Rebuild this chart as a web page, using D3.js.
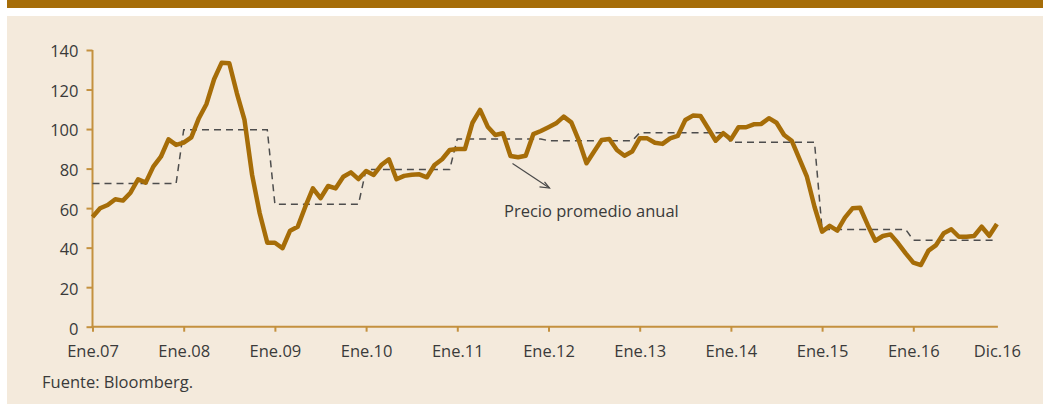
<!DOCTYPE html>
<html><head><meta charset="utf-8">
<script src="https://cdn.jsdelivr.net/npm/d3@7"></script>
<style>
html,body{margin:0;padding:0;background:#fff;}
svg{display:block;}
text{font-family:"Open Sans",sans-serif;fill:#3a3a3a;}
</style></head>
<body>
<svg id="c" width="1043" height="404"></svg>
<script>
// Monthly price, Jan 2007 .. Dec 2016 (US$/barrel)
const prices = [
  55.5, 59.9, 61.6, 64.5, 63.8, 67.8, 74.6, 72.9, 81.0, 86.0, 94.8, 92.0,
  93.1, 95.8, 105.5, 112.7, 125.2, 133.6, 133.3, 118.1, 104.6, 76.8, 57.4, 42.5,
  42.5, 39.7, 48.6, 50.6, 60.7, 70.0, 65.0, 71.2, 70.0, 75.9, 78.1, 74.7,
  78.8, 76.8, 81.8, 84.7, 74.6, 76.3, 76.9, 77.1, 75.6, 81.8, 84.7, 89.4,
  89.9, 89.9, 103.2, 109.7, 101.2, 97.0, 97.9, 86.4, 85.7, 86.5, 97.4, 99.0,
  100.9, 102.9, 106.3, 103.4, 94.1, 82.7, 88.6, 94.5, 95.0, 89.4, 86.5, 88.6,
  95.3, 95.3, 93.1, 92.5, 95.3, 96.5, 104.6, 106.8, 106.6, 100.4, 94.1, 97.9,
  94.8, 100.9, 100.9, 102.4, 102.6, 105.5, 103.2, 97.0, 94.1, 85.0, 75.9, 60.7,
  48.1, 51.0, 48.6, 55.2, 59.9, 60.2, 51.5, 43.5, 45.9, 46.7, 42.2, 37.1,
  32.4, 31.2, 38.5, 41.3, 47.3, 49.3, 45.5, 45.5, 45.9, 50.6, 46.0, 52.0
];
// Annual average price, 2007 .. 2016
const annualAvg = [72.5, 99.6, 62.0, 79.6, 95.0, 94.1, 98.1, 93.3, 49.2, 43.8];
const yTicks = [0, 20, 40, 60, 80, 100, 120, 140];
const xTickIdx = [0, 12, 24, 36, 48, 60, 72, 84, 96, 108, 119];
const xTickLabels = ["Ene.07","Ene.08","Ene.09","Ene.10","Ene.11","Ene.12","Ene.13","Ene.14","Ene.15","Ene.16","Dic.16"];
const annotationText = "Precio promedio anual";
const sourceText = "Fuente: Bloomberg.";

const BROWN = "#a66d08", AXIS = "#c4913f", BG = "#f4eadc";
const svg = d3.select("#c");

// frame
svg.append("rect").attr("x",7).attr("y",0).attr("width",1036).attr("height",8).attr("fill",BROWN);
svg.append("rect").attr("x",7).attr("y",16).attr("width",1036).attr("height",388).attr("fill",BG);

const x = d3.scaleLinear().domain([0,119]).range([92.5, 996.9]);
const y = d3.scaleLinear().domain([0,140]).range([326.7, 50]);

// annual average series (monthly steps)
const avgMonthly = prices.map((_, i) => annualAvg[Math.floor(i/12)]);

// axes
const yAxis = svg.append("g").attr("transform","translate(92.5,0)")
  .call(d3.axisLeft(y).tickValues(yTicks).tickSize(6).tickPadding(8).tickFormat(d3.format("d")));
yAxis.select(".domain").attr("stroke",AXIS).attr("stroke-width",2).attr("d","M0,"+y(140)+"V"+(y(0)+1));
yAxis.selectAll(".tick line").attr("stroke",AXIS).attr("stroke-width",2);
yAxis.selectAll(".tick text").attr("font-size",16.5).attr("font-family","Open Sans").attr("fill","#3a3a3a").attr("dy","0.42em");
yAxis.selectAll(".tick").filter(d => d === 0).select("text").attr("dy","0.5em");

const xAxis = svg.append("g").attr("transform","translate(0,"+y(0)+")")
  .call(d3.axisBottom(x).tickValues(xTickIdx).tickSize(5).tickPadding(14)
    .tickFormat((d,i) => xTickLabels[i]));
xAxis.select(".domain").attr("stroke",AXIS).attr("stroke-width",2).attr("d","M"+(x(0)-1)+",0H"+(x(119)+1));
xAxis.selectAll(".tick line").attr("stroke",AXIS).attr("stroke-width",2)
  .filter(d => d === 119).remove();
xAxis.selectAll(".tick text").attr("font-size",16.5).attr("font-family","Open Sans").attr("fill","#3a3a3a");

// dashed annual average
svg.append("path").datum(avgMonthly)
  .attr("d", d3.line().x((d,i)=>x(i)).y(d=>y(d)))
  .attr("fill","none").attr("stroke","#4d4d4d").attr("stroke-width",1.5)
  .attr("stroke-dasharray","7,5");

// main price line
svg.append("path").datum(prices)
  .attr("d", d3.line().x((d,i)=>x(i)).y(d=>y(d)))
  .attr("fill","none").attr("stroke",BROWN).attr("stroke-width",4.5)
  .attr("stroke-linejoin","round").attr("stroke-linecap","butt");

// annotation arrow
const ax0 = 512.5, ay0 = 163.5, ax1 = 549.5, ay1 = 188;
svg.append("line").attr("x1",ax0).attr("y1",ay0).attr("x2",ax1).attr("y2",ay1)
  .attr("stroke","#4a4a4a").attr("stroke-width",1.2);
svg.append("path").attr("d","M539.5,186.8L"+ax1+","+ay1+"L544.5,181.8")
  .attr("fill","none").attr("stroke","#4a4a4a").attr("stroke-width",1.2);
svg.append("text").attr("x",504).attr("y",216.5).attr("font-size",16.5).text(annotationText);

// source
svg.append("text").attr("x",42).attr("y",388).attr("font-size",16.5).text(sourceText);
</script>
</body></html>
